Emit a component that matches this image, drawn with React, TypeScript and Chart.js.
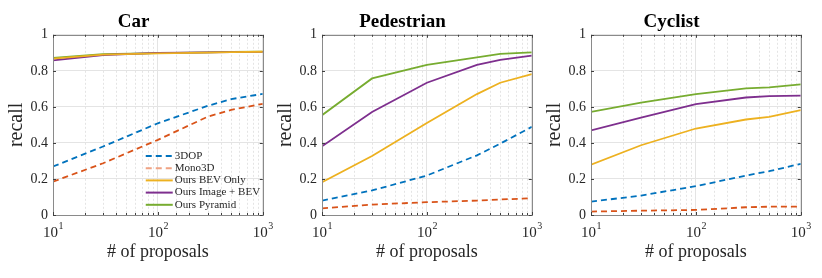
import React, { useEffect, useRef } from "react";
import { Chart, registerables } from "chart.js";

Chart.register(...registerables);

const proposals = [10, 30, 100, 300, 500, 1000];
const seriesNames = ["3DOP", "Mono3D", "Ours BEV Only", "Ours Image + BEV", "Ours Pyramid"];
const yTickValues = [0, 0.2, 0.4, 0.6, 0.8, 1];

const carSeries = [
  [0.269, 0.38, 0.509, 0.606, 0.643, 0.672],
  [0.185, 0.287, 0.417, 0.546, 0.583, 0.617],
  [0.868, 0.89, 0.897, 0.901, 0.904, 0.906],
  [0.858, 0.888, 0.9, 0.902, 0.904, 0.905],
  [0.872, 0.892, 0.898, 0.902, 0.905, 0.907],
];
const pedestrianSeries = [
  [0.08, 0.136, 0.219, 0.331, 0.396, 0.489],
  [0.037, 0.058, 0.071, 0.08, 0.086, 0.093],
  [0.182, 0.327, 0.511, 0.671, 0.734, 0.782],
  [0.381, 0.572, 0.734, 0.833, 0.861, 0.885],
  [0.554, 0.758, 0.833, 0.875, 0.894, 0.903],
];
const cyclistSeries = [
  [0.074, 0.108, 0.16, 0.219, 0.243, 0.284],
  [0.019, 0.024, 0.028, 0.043, 0.046, 0.046],
  [0.279, 0.387, 0.48, 0.53, 0.545, 0.582],
  [0.47, 0.541, 0.615, 0.652, 0.66, 0.662],
  [0.572, 0.623, 0.671, 0.703, 0.708, 0.725],
];

const lineColors = ["#0072BD", "#D95319", "#EDB120", "#7E2F8E", "#77AC30"];
const legendColors = ["#0072BD", "#F0A283", "#EDB120", "#7E2F8E", "#77AC30"];
const dashed = [true, true, false, false, false];

const FONT = "'Liberation Serif', 'Times New Roman', serif";

const isMajor = (v: number) => {
  const l = Math.log10(v);
  return Math.abs(l - Math.round(l)) < 1e-9;
};

const framePlugin = {
  id: "matlabFrame",
  beforeDatasetsDraw(chart: any) {
    const { ctx, chartArea } = chart;
    const xs = chart.scales.x;
    ctx.save();
    ctx.strokeStyle = "#e4e4e4";
    ctx.lineWidth = 1;
    ctx.setLineDash([2, 2]);
    xs.ticks.forEach((t: any) => {
      if (isMajor(t.value)) return;
      const px = Math.round(xs.getPixelForValue(t.value)) + 0.5;
      ctx.beginPath();
      ctx.moveTo(px, chartArea.top);
      ctx.lineTo(px, chartArea.bottom);
      ctx.stroke();
    });
    ctx.restore();
  },
  afterDatasetsDraw(chart: any, _args: any, opts: any) {
    const { ctx, chartArea } = chart;
    const xs = chart.scales.x;
    const ys = chart.scales.y;
    const { left, right, top, bottom } = chartArea;
    ctx.save();
    ctx.strokeStyle = "#8a8a8a";
    ctx.lineWidth = 1;
    ctx.setLineDash([]);
    ctx.strokeRect(Math.round(left) + 0.5, Math.round(top) + 0.5, Math.round(right - left), Math.round(bottom - top));
    ctx.strokeStyle = "#404040";
    ctx.beginPath();
    xs.ticks.forEach((t: any) => {
      const px = Math.round(xs.getPixelForValue(t.value)) + 0.5;
      const len = isMajor(t.value) ? 3 : 2;
      ctx.moveTo(px, bottom);
      ctx.lineTo(px, bottom - len);
      ctx.moveTo(px, top);
      ctx.lineTo(px, top + len);
    });
    ys.ticks.forEach((t: any) => {
      const py = Math.round(ys.getPixelForValue(t.value)) + 0.5;
      ctx.moveTo(left, py);
      ctx.lineTo(left + 3, py);
      ctx.moveTo(right, py);
      ctx.lineTo(right - 3, py);
    });
    ctx.stroke();

    // x tick labels with raised exponents: 10^n
    ctx.fillStyle = "#262626";
    ctx.textBaseline = "alphabetic";
    ctx.textAlign = "left";
    xs.ticks.forEach((t: any) => {
      if (!isMajor(t.value)) return;
      const e = String(Math.round(Math.log10(t.value)));
      const px = xs.getPixelForValue(t.value);
      ctx.font = `15px ${FONT}`;
      const wb = ctx.measureText("10").width;
      ctx.font = `10px ${FONT}`;
      const we = ctx.measureText(e).width;
      const x0 = px - (wb + we) / 2;
      ctx.font = `15px ${FONT}`;
      ctx.fillText("10", x0, bottom + 22);
      ctx.font = `10px ${FONT}`;
      ctx.fillText(e, x0 + wb + 0.5, bottom + 14);
    });

    if (opts && opts.showLegend) {
      const x0 = right - 117;
      let y = bottom - 59;
      ctx.font = `11px ${FONT}`;
      ctx.textBaseline = "middle";
      ctx.textAlign = "left";
      chart.data.datasets.forEach((ds: any, i: number) => {
        ctx.strokeStyle = legendColors[i];
        ctx.lineWidth = 2;
        ctx.setLineDash(dashed[i] ? [6, 4] : []);
        ctx.beginPath();
        ctx.moveTo(x0, y);
        ctx.lineTo(x0 + 27, y);
        ctx.stroke();
        ctx.setLineDash([]);
        ctx.fillStyle = "#262626";
        ctx.fillText(ds.label, x0 + 29, y);
        y += 12.2;
      });
    }
    ctx.restore();
  },
};

type PanelProps = { title: string; series: number[][]; left: number; showLegend?: boolean };

function Panel({ title, series, left, showLegend }: PanelProps) {
  const ref = useRef<HTMLCanvasElement | null>(null);
  useEffect(() => {
    if (!ref.current) return;
    const chart = new Chart(ref.current, {
      type: "line",
      data: {
        datasets: series.map((vals, i) => ({
          label: seriesNames[i],
          data: proposals.map((p, j) => ({ x: p, y: vals[j] })),
          borderColor: lineColors[i],
          backgroundColor: lineColors[i],
          borderWidth: 1.8,
          borderDash: dashed[i] ? [6, 4] : [],
          pointRadius: 0,
          tension: 0,
          fill: false,
        })),
      },
      options: {
        responsive: false,
        animation: false,
        devicePixelRatio: 1,
        layout: { padding: { left: 0, right: 14, top: 0, bottom: 0 } },
        plugins: {
          legend: { display: false },
          tooltip: { enabled: false },
          title: {
            display: true,
            text: title,
            color: "#000",
            font: { family: FONT, size: 19, weight: "bold" },
            padding: { top: 11, bottom: 1 },
          },
          matlabFrame: { showLegend: !!showLegend },
        } as any,
        scales: {
          x: {
            type: "logarithmic",
            min: 10,
            max: 1000,
            border: { display: false },
            grid: {
              drawTicks: false,
              color: (c: any) => (c.tick && isMajor(c.tick.value) ? "#e4e4e4" : "rgba(0,0,0,0)"),
            },
            ticks: {
              autoSkip: false,
              maxRotation: 0,
              padding: 7,
              color: "rgba(0,0,0,0)",
              font: { family: FONT, size: 15 },
              callback: (v: any) => {
                const n = Number(v);
                if (!isMajor(n)) return "";
                return "10" + String(Math.round(Math.log10(n)));
              },
            },
            title: {
              display: true,
              text: "# of proposals",
              color: "#262626",
              font: { family: FONT, size: 18 },
              padding: { top: 0, bottom: 15 },
            },
            afterFit: (s: any) => {
              s.height = 63;
            },
          },
          y: {
            type: "linear",
            min: 0,
            max: 1,
            border: { display: false },
            grid: { drawTicks: false, color: "#e4e4e4" },
            afterBuildTicks: (s: any) => {
              s.ticks = yTickValues.map((v) => ({ value: v }));
            },
            ticks: {
              padding: 5,
              color: "#262626",
              font: { family: FONT, size: 14 },
              callback: (v: any) => {
                const n = Number(v);
                return n === 0 || n === 1 ? String(n) : n.toFixed(1);
              },
            },
            title: {
              display: true,
              text: "recall",
              color: "#262626",
              font: { family: FONT, size: 20 },
              padding: { top: 5, bottom: 0 },
            },
            afterFit: (s: any) => {
              s.width = 53;
            },
          },
        },
      } as any,
      plugins: [framePlugin],
    });
    return () => chart.destroy();
  }, [title, series, showLegend]);

  return (
    <div style={{ position: "absolute", left, top: 0, width: 281, height: 278 }}>
      <canvas ref={ref} width={281} height={278} style={{ width: 281, height: 278, display: "block" }} />
    </div>
  );
}

export default function App() {
  return (
    <div style={{ position: "fixed", left: 0, top: 0, width: 822, height: 278, background: "#fff", overflow: "hidden" }}>
      <Panel title="Car" series={carSeries} left={0} showLegend />
      <Panel title="Pedestrian" series={pedestrianSeries} left={269} />
      <Panel title="Cyclist" series={cyclistSeries} left={538} />
    </div>
  );
}
